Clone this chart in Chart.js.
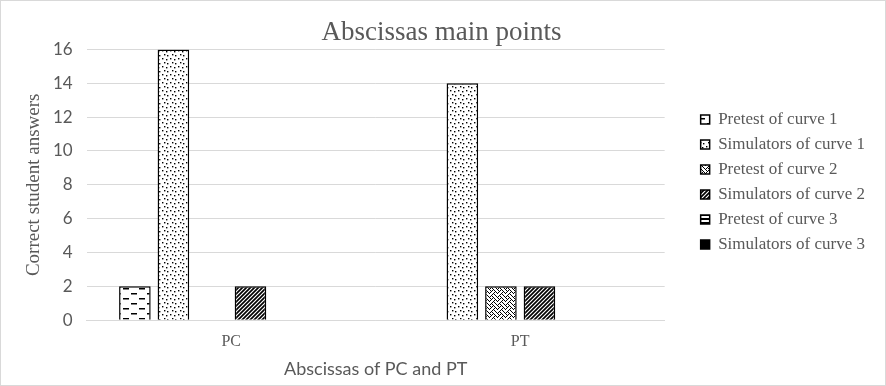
<!DOCTYPE html>
<html>
<head>
<meta charset="utf-8">
<script src="https://cdn.jsdelivr.net/npm/chart.js@4.4.0/dist/chart.umd.min.js"></script>
<style>
  html, body { margin: 0; padding: 0; background: #fff; }
  #wrap { width: 884px; height: 384px; border: 1px solid #d9d9d9; position: relative; }
</style>
</head>
<body>
<div id="wrap"><canvas id="chart" width="884" height="384"></canvas></div>
<script>
// Chart data
const categories = ['PC', 'PT'];
const seriesNames = [
    'Pretest of curve 1',
    'Simulators of curve 1',
    'Pretest of curve 2',
    'Simulators of curve 2',
    'Pretest of curve 3',
    'Simulators of curve 3'
];
const pretestCurve1 = [2, 0];
const simulatorsCurve1 = [16, 14];
const pretestCurve2 = [0, 2];
const simulatorsCurve2 = [2, 2];
const pretestCurve3 = [0, 0];
const simulatorsCurve3 = [0, 0];
const yTicks = [0, 2, 4, 6, 8, 10, 12, 14, 16];

// extra room between plot and legend, and where the legend sits vertically
const legendGap = 28;
const legendShift = 28;
const legendCenterY = 181;

// Pattern helpers
function makePattern(w, h, drawFn) {
    const c = document.createElement('canvas');
    c.width = w;
    c.height = h;
    const g = c.getContext('2d');
    g.fillStyle = '#fff';
    g.fillRect(0, 0, w, h);
    g.fillStyle = '#000';
    g.strokeStyle = '#000';
    drawFn(g);
    return document.getElementById('chart').getContext('2d').createPattern(c, 'repeat');
}

// 8x8 bitmap pattern, one string per row
function bitPattern(rows) {
    return makePattern(8, 8, g => {
        rows.forEach((r, y) => {
            for (let x = 0; x < 8; x++) {
                if (r[x] === '1') g.fillRect(x, y, 1, 1);
            }
        });
    });
}

const patterns = [
    // dashes
    makePattern(16, 10, g => {
        g.fillRect(2, 2, 6, 1.5);
        g.fillRect(10, 7, 6, 1.5);
    }),
    // dots
    makePattern(8, 8, g => {
        g.fillRect(1, 1, 1.4, 1.4);
        g.fillRect(5, 2, 1.4, 1.4);
        g.fillRect(3, 5, 1.4, 1.4);
        g.fillRect(6, 6, 1.4, 1.4);
    }),
    // weave
    bitPattern([
        '10001000',
        '01010100',
        '00100010',
        '01000101',
        '10001000',
        '00010100',
        '00100010',
        '01010001'
    ]),
    // diagonal stripes
    makePattern(4, 4, g => {
        g.lineWidth = 1.7;
        g.beginPath();
        g.moveTo(0, 4); g.lineTo(4, 0);
        g.moveTo(-1, 1); g.lineTo(1, -1);
        g.moveTo(3, 5); g.lineTo(5, 3);
        g.stroke();
    }),
    // horizontal lines
    makePattern(4, 4, g => {
        g.fillRect(0, 1, 4, 2);
    }),
    // dark
    makePattern(4, 4, g => {
        g.fillRect(0, 0, 4, 4);
    })
];

const seriesValues = [pretestCurve1, simulatorsCurve1, pretestCurve2, simulatorsCurve2, pretestCurve3, simulatorsCurve3];

const datasets = seriesNames.map((name, i) => ({
    label: name,
    data: seriesValues[i],
    backgroundColor: patterns[i],
    borderColor: '#000',
    borderWidth: 1.5,
    categoryPercentage: 0.8,
    barPercentage: 0.82
}));

// nudge the legend after layout: leave a gap to the plot and center it
const legendPlacer = {
    id: 'legendPlacer',
    afterLayout(chart) {
        const lg = chart.legend;
        lg.left += legendShift;
        const dy = legendCenterY - (lg.top + lg.bottom) / 2;
        lg.top += dy;
        lg.bottom += dy;
    }
};

const ctx = document.getElementById('chart').getContext('2d');
const chart = new Chart(ctx, {
    type: 'bar',
    data: { labels: categories, datasets: datasets },
    plugins: [legendPlacer],
    options: {
        responsive: false,
        animation: false,
        layout: { padding: { left: 7, right: 10, top: 4, bottom: 5 } },
        scales: {
            x: {
                grid: { display: false },
                border: { display: true, color: '#d9d9d9' },
                ticks: { color: '#595959', font: { family: 'Liberation Serif', size: 16 }, padding: 4 },
                title: {
                    display: true,
                    text: 'Abscissas of PC and PT',
                    color: '#595959',
                    font: { family: 'Lato', size: 18 },
                    padding: { top: 3, bottom: 0 }
                }
            },
            y: {
                min: 0,
                max: 16,
                afterBuildTicks: axis => { axis.ticks = yTicks.map(v => ({ value: v })); },
                grid: { color: '#d9d9d9', drawTicks: false },
                border: { display: false },
                ticks: { color: '#595959', font: { family: 'Lato', size: 17 }, padding: 14 },
                title: {
                    display: true,
                    text: 'Correct student answers',
                    color: '#595959',
                    font: { family: 'Liberation Serif', size: 19, lineHeight: '10px' },
                    padding: { top: 21, bottom: 0 }
                }
            }
        },
        plugins: {
            title: {
                display: true,
                text: 'Abscissas main points',
                color: '#595959',
                font: { family: 'Liberation Serif', size: 27, weight: 'normal' },
                padding: { top: 12, bottom: 0 }
            },
            legend: {
                position: 'right',
                labels: {
                    color: '#595959',
                    font: { family: 'Liberation Serif', size: 17 },
                    boxWidth: 9,
                    boxHeight: 9,
                    padding: 8
                }
            },
            tooltip: { enabled: false }
        }
    }
});

// widen the legend box so the plot area ends where the reference's does
const origFit = chart.legend.fit;
chart.legend.fit = function () {
    origFit.call(this);
    this.width += legendGap;
};
chart.update();
</script>
</body>
</html>
